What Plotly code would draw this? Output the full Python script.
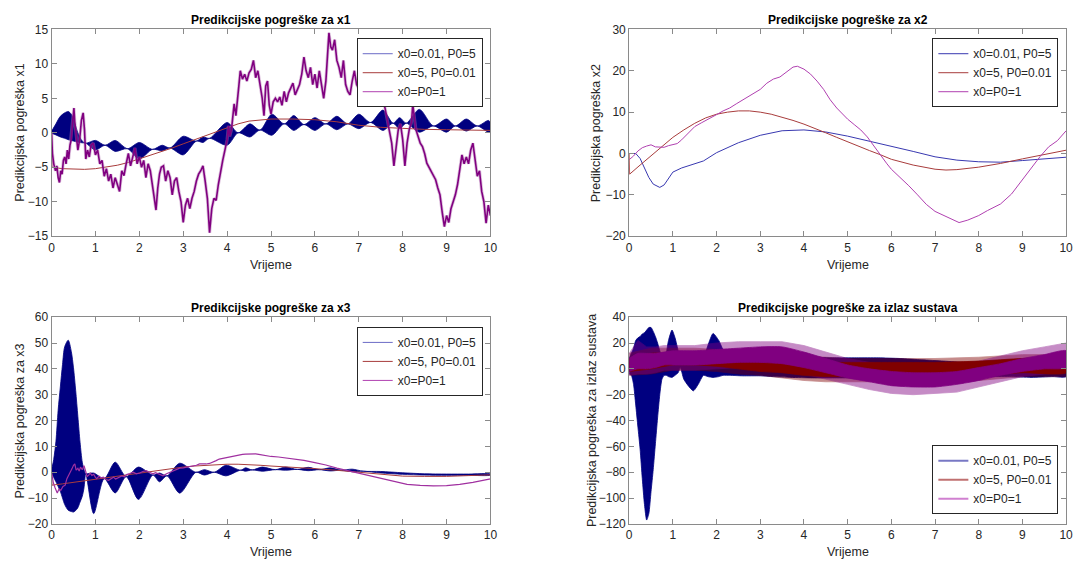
import plotly.graph_objects as go

FONT = "Liberation Sans, Arial, Helvetica, sans-serif"
W, H = 1086, 568

NAVY = "#000080"
DRED = "#800000"
DMAG = "#800080"
L_BLUE = "#3838b0"
L_RED = "#a83c3c"
L_MAG = "#b040b0"

LEG_NAMES = ["x0=0.01, P0=5", "x0=5, P0=0.01", "x0=P0=1"]

# ---------------- subplot 1 : x1 ----------------
x1_blue_t = [0, 0.1, 0.2, 0.3, 0.38, 0.45, 0.5, 0.6, 0.7, 0.78, 1.0, 1.22, 1.45, 1.73, 2.0, 2.3, 2.52, 2.7,
             3.0, 3.3, 3.45, 3.6, 4.0, 4.25, 4.52, 4.75, 5.02, 5.3, 5.52, 5.75, 6.0, 6.25, 6.5, 6.75, 7.0,
             7.27, 7.55, 7.78, 7.93, 8.08, 8.38, 8.7, 9.0, 9.2, 9.45, 9.7, 9.95, 10]
x1_blue_up = [0, 1.3, 2.4, 2.9, 3.1, 2.7, 2.0, 0.0, -1.2, -1.5, -1.1, -1.8, -1.1, -2.3, -1.4, -2.4, -1.8, -2.2,
              -0.5, -1.2, -0.6, -0.8, 1.5, 0.0, 1.3, 0.4, 2.7, 1.3, 2.5, 1.2, 2.2, 1.3, 2.4, 1.3, 2.7,
              1.5, 3.3, 1.4, 2.2, 1.4, 3.4, 1.0, 2.0, 1.0, 2.0, 1.0, 1.8, 1.5]
x1_blue_lo = [0, -0.3, -0.6, -0.8, -1.0, -1.1, -1.2, -1.35, -1.45, -1.5, -2.5, -1.8, -2.7, -2.3, -3.8, -2.4, -2.6, -2.2,
              -3.2, -1.2, -1.4, -0.8, -1.8, 0.0, -0.6, 0.4, -0.35, 1.3, 0.35, 1.2, 0.35, 1.3, 0.45, 1.3, 0.6,
              1.5, 0.35, 1.4, 0.6, 1.4, 0.1, 1.0, 0.1, 1.0, 0.25, 1.0, 0.1, 0.2]

x1_red_t = [0, 0.01, 0.25, 0.5, 0.75, 1.0, 1.25, 1.5, 1.75, 2.0, 2.25, 2.5, 2.75, 3.0, 3.25, 3.5, 3.75, 4.0,
            4.25, 4.5, 4.75, 5.0, 5.5, 6.0, 6.5, 7.0, 7.5, 8.0, 8.5, 9.0, 9.5, 10]
x1_red_v = [0, -5, -5.2, -5.3, -5.3, -5.2, -5.0, -4.7, -4.3, -3.8, -3.2, -2.7, -2.2, -1.6, -1.0, -0.4, 0.2, 0.8,
            1.3, 1.7, 1.9, 2.0, 2.0, 1.9, 1.6, 1.1, 0.8, 0.6, 0.5, 0.45, 0.4, 0.35]

x1_mag_t = [0, 0.02, 0.05, 0.09, 0.12, 0.15, 0.18, 0.21, 0.24, 0.27, 0.3, 0.33, 0.36, 0.39, 0.42, 0.45, 0.48,
            0.51, 0.53, 0.56, 0.6, 0.64, 0.68, 0.72, 0.75, 0.78, 0.82, 0.86, 0.9, 0.95, 1.0, 1.05, 1.1, 1.15,
            1.2, 1.25, 1.3, 1.35, 1.4, 1.45, 1.5, 1.55, 1.6, 1.65, 1.7, 1.75, 1.8, 1.85, 1.9, 1.95, 2.0, 2.05,
            2.1, 2.15, 2.2, 2.25, 2.3, 2.35, 2.38, 2.42, 2.46, 2.5, 2.55, 2.6, 2.65, 2.7, 2.75, 2.8, 2.85, 2.9,
            2.95, 3.0, 3.05, 3.1, 3.15, 3.2, 3.25, 3.3, 3.35, 3.4, 3.45, 3.5, 3.55, 3.6, 3.65, 3.7, 3.75, 3.8,
            3.85, 3.9, 3.95, 4.0, 4.03, 4.06, 4.1, 4.13, 4.16, 4.2, 4.23, 4.27, 4.3, 4.35, 4.4, 4.45, 4.5, 4.55,
            4.6, 4.65, 4.7, 4.75, 4.8, 4.84, 4.88, 4.92, 4.96, 5.0, 5.05, 5.1, 5.15, 5.2, 5.25, 5.3, 5.35, 5.4,
            5.45, 5.5, 5.55, 5.6, 5.65, 5.7, 5.75, 5.8, 5.85, 5.9, 5.95, 6.0, 6.05, 6.1, 6.15, 6.2, 6.25, 6.28,
            6.32, 6.36, 6.4, 6.45, 6.5, 6.55, 6.6, 6.65, 6.7, 6.75, 6.8, 6.85, 6.9, 6.95, 7.0, 7.05, 7.1, 7.15,
            7.2, 7.25, 7.3, 7.35, 7.4, 7.45, 7.5, 7.55, 7.6, 7.65, 7.7, 7.75, 7.8, 7.85, 7.9, 7.95, 8.0, 8.05,
            8.1, 8.15, 8.2, 8.23, 8.27, 8.3, 8.35, 8.4, 8.45, 8.5, 8.55, 8.6, 8.65, 8.7, 8.75, 8.8, 8.85, 8.9,
            8.95, 9.0, 9.05, 9.1, 9.15, 9.2, 9.25, 9.3, 9.35, 9.4, 9.45, 9.5, 9.55, 9.6, 9.65, 9.7, 9.75, 9.8,
            9.85, 9.9, 9.95, 10.0]
x1_mag_v = [0, -3, -4.5, -5.5, -4.8, -6.5, -7.2, -5.5, -6, -4, -3.5, -4.5, -2.5, -3.8, -1.8, -1, 1.5,
            3.6, 1.5, -0.5, -2.5, -1, 1.8, 2.9, 0.5, -3.8, -2.5, -3.5, -1.8, -1.5, -3.2, -2.5, -4.5, -4,
            -6.3, -5.2, -7, -6, -8, -6.5, -7.5, -8.5, -5.5, -6.2, -4.5, -3, -4.8, -3.5, -2.2, -4.5, -3.5, -5,
            -4, -6.5, -4.5, -5.5, -7.5, -9.5, -11.2, -8, -6, -5, -4.8, -7, -5.5, -6.5, -9, -7, -6.5, -8.5,
            -10, -13, -10.5, -9.5, -11, -9.5, -8.5, -7, -6, -5.5, -4.8, -7, -9.5, -14.5, -11, -9.5, -9.8, -7.5,
            -5.5, -4, -2.5, -1, 1, -0.5, 0.5, 3, 4.2, 2.5, 5, 7, 9, 7.8, 8.5, 7.5, 8.7, 9.2,
            10.5, 8, 9, 7, 5, 2.5, 6.8, 7.5, 4, 2.7, 4.5, 5, 4.5, 5.2, 4, 6, 4.5, 5.8,
            6.5, 7.2, 5.5, 6.3, 7, 8.5, 11, 9, 8, 9.5, 7, 8.5, 6.5, 9, 7, 5, 7.5, 11,
            14.5, 12.5, 12, 13.5, 10.5, 9.5, 8, 10.5, 7, 6, 5.5, 7.5, 9, 7, 6.5, 5.8, 7.5, 6,
            7.5, 6.5, 7.5, 6.5, 7, 5.5, 6, 5, 3.5, 2, 0.5, -1.5, -4.8, -2, 0.5, 1.3, -1, -4.8,
            -1.5, 0.5, 1.5, 4.1, 2.0, 0.5, -0.5, -1.5, -2, -3, -4.4, -5, -5.8, -6.2, -6.8, -8, -9, -11.5,
            -13.6, -12, -13, -11, -10, -9, -7.5, -5, -3.2, -4.5, -3.5, -4.5, -2.5, -1.5, -4, -6.3, -5.5, -8.5,
            -10, -13.1, -10.5, -12]

# ---------------- subplot 2 : x2 ----------------
x2_blue_t = [0, 0.15, 0.25, 0.35, 0.45, 0.55, 0.7, 0.8, 0.9, 1.0, 1.2, 1.5, 1.7, 2.0, 2.5, 3.0, 3.5, 4.0, 4.5,
             5.0, 5.5, 6.0, 6.5, 7.0, 7.5, 8.0, 8.5, 9.0, 9.5, 10]
x2_blue_v = [0, 0, -1.2, -3.5, -5.8, -7.4, -8.2, -7.6, -5.9, -4.5, -3.5, -2.4, -1.8, 0.2, 2.6, 4.4, 5.5, 5.7, 5.2,
             4.2, 3.0, 1.7, 0.5, -0.8, -1.6, -2.0, -2.1, -1.7, -1.3, -0.9]

x2_red_t = [0, 0.01, 0.25, 0.5, 0.75, 1.0, 1.25, 1.5, 1.75, 2.0, 2.25, 2.5, 2.75, 3.0, 3.25, 3.5, 3.75, 4.0,
            4.25, 4.5, 4.75, 5.0, 5.25, 5.5, 5.75, 6.0, 6.5, 7.0, 7.25, 7.5, 8.0, 8.5, 9.0, 9.5, 10]
x2_red_v = [0, -5, -2.8, -0.6, 1.7, 3.9, 5.7, 7.3, 8.6, 9.5, 10.0, 10.3, 10.3, 10.0, 9.5, 8.8, 8.0, 7.1,
            6.1, 5.0, 3.9, 2.8, 1.7, 0.7, -0.3, -1.4, -2.8, -3.8, -4.0, -3.9, -3.3, -2.4, -1.3, -0.2, 0.8]

x2_mag_t = [0, 0.1, 0.2, 0.3, 0.4, 0.5, 0.6, 0.7, 0.8, 0.9, 1.0, 1.1, 1.2, 1.35, 1.5, 1.65, 1.8, 2.0, 2.15, 2.3,
            2.45, 2.6, 2.8, 3.0, 3.15, 3.3, 3.45, 3.6, 3.75, 3.85, 4.0, 4.15, 4.3, 4.45, 4.6, 4.75, 4.9, 5.0,
            5.15, 5.3, 5.45, 5.6, 5.75, 5.9, 6.0, 6.2, 6.4, 6.6, 6.8, 7.0, 7.2, 7.4, 7.55, 7.75, 8.0, 8.2,
            8.5, 8.75, 9.0, 9.2, 9.4, 9.6, 9.8, 10]
x2_mag_v = [-1.5, -0.6, 0.6, 1.4, 1.8, 2.1, 1.6, 1.5, 1.5, 1.9, 2.1, 2.4, 3.3, 5.0, 6.5, 7.4, 8.2, 9.4, 10.3, 11.0,
            12.0, 13.0, 14.2, 15.5, 17.0, 18.0, 18.5, 19.6, 20.9, 21.1, 20.4, 19.2, 17.5, 15.5, 13.0, 11.0, 9.3, 8.3,
            7.0, 5.7, 4.0, 1.8, -0.5, -2.5, -3.8, -5.7, -7.8, -10.0, -12.3, -14.0, -15.0, -16.1, -16.7, -16.1, -15.0, -13.8,
            -12.2, -9.8, -6.3, -3.5, -0.8, 1.6, 3.1, 5.5]

# ---------------- subplot 3 : x3 ----------------
x3_blue_t = [0, 0.05, 0.1, 0.15, 0.2, 0.25, 0.3, 0.38, 0.45, 0.5, 0.55, 0.6, 0.65, 0.7, 0.74, 0.78, 0.96, 1.2,
             1.45, 1.7, 1.98, 2.31, 2.46, 2.63, 2.92, 3.29, 3.48, 3.71, 3.97, 4.31, 4.42, 4.57, 4.8, 5.1, 5.33,
             5.6, 5.85, 6.1, 6.35, 6.6, 6.85, 7.1, 7.5, 8.0, 8.5, 9.0, 9.5, 10]
x3_blue_up = [0, 5, 12, 24, 33, 41.7, 48.6, 51.1, 46.7, 40.4, 31.6, 21.5, 11.5, 3.9, 1.0, -0.5, -0.3, -2.5,
              3.9, -1.7, 2.0, -1.1, -0.3, -1.4, 3.5, 0.0, 1.0, 0.0, 2.7, 0.8, 1.7, 0.9, 2.0, 1.0, 2.0,
              1.1, 1.9, 1.0, 1.7, 0.8, 1.2, 0.4, 0.3, -0.2, -0.6, -0.7, -0.7, -0.7]
x3_blue_lo = [0, -2, -3.7, -5.5, -7.4, -10, -12.5, -14.7, -15.2, -15.4, -14.8, -13.7, -11.5, -9.3, -6, -0.5, -16, -2.5,
              -8.0, -1.7, -10.5, -1.1, -3.7, -1.4, -8.1, 0.0, -1.1, 0.0, -1.4, 0.8, 0.4, 0.9, 0.4, 1.0, 0.8,
              1.1, 0.6, 1.0, 0.5, 0.8, 0.2, 0.4, -0.3, -0.8, -1.1, -1.2, -1.2, -1.1]

x3_red_t = [0, 0.01, 0.25, 0.5, 0.75, 1.0, 1.25, 1.5, 1.75, 2.0, 2.25, 2.5, 2.75, 3.0, 3.25, 3.5, 3.75, 4.0,
            4.25, 4.5, 4.75, 5.0, 5.5, 6.0, 6.5, 7.0, 7.5, 8.0, 8.5, 9.0, 9.5, 10]
x3_red_v = [0, -5, -4.5, -3.9, -3.2, -2.6, -2.0, -1.4, -0.8, -0.2, 0.4, 1.0, 1.5, 2.0, 2.4, 2.7, 3.0, 3.1,
            3.1, 3.0, 2.7, 2.4, 2.0, 1.4, 0.75, 0.0, -1.0, -1.5, -1.6, -1.6, -1.3, -1.0]

x3_mag_t = [0, 0.04, 0.08, 0.13, 0.17, 0.21, 0.26, 0.31, 0.35, 0.4, 0.43, 0.47, 0.5, 0.53, 0.56, 0.6, 0.63, 0.66,
            0.7, 0.74, 0.78, 0.81, 0.85, 0.88, 0.92, 0.96, 1.0, 1.03, 1.08, 1.13, 1.18, 1.24, 1.3, 1.35, 1.41,
            1.46, 1.52, 1.6, 1.66, 1.71, 1.78, 1.86, 1.93, 2.01, 2.08, 2.16, 2.23, 2.31, 2.37, 2.42, 2.48, 2.54,
            2.62, 2.7, 2.76, 2.84, 2.92, 3.0, 3.07, 3.15, 3.22, 3.3, 3.37, 3.45, 3.52, 3.6, 3.67, 3.75, 3.82,
            3.9, 3.97, 4.05, 4.12, 4.2, 4.27, 4.35, 4.42, 4.5, 4.57, 4.65, 4.72, 4.8, 4.87, 5.0, 5.17, 5.35,
            5.55, 5.75, 6.0, 6.25, 6.5, 6.75, 7.0, 7.3, 7.55, 7.8, 8.1, 8.4, 8.7, 9.0, 9.3, 9.6, 9.8, 10]
x3_mag_v = [0, -4, -6, -8, -6.5, -7, -5.5, -5, -2.5, -1, 0.3, 1.5, 2.7, 3.2, 0.8, 1.5, 0.5, 2.0,
            1.0, 2.5, 0.2, -1.7, -1.0, -0.3, -1.2, -0.8, -2.0, -2.5, -1.5, -2.2, -1.9, -2.8, -3.1, -2.4, -1.9,
            -2.6, -2.2, -1.4, -1.8, -0.9, -0.5, 0.0, -0.6, -0.3, 0.3, 0.6, 0.0, -0.6, -0.2, -0.5, -1.0, -1.4,
            -0.6, 0.0, 0.4, 1.0, 1.6, 1.7, 1.9, 2.0, 2.2, 2.7, 3.2, 3.1, 3.2, 3.4, 3.8, 4.5, 5.1,
            5.4, 5.7, 6.0, 6.2, 6.5, 6.8, 6.9, 7.0, 7.1, 7.2, 7.1, 6.9, 6.6, 6.3, 6.1, 5.9, 5.5,
            5.1, 4.6, 3.7, 2.8, 1.6, 0.6, -0.5, -1.7, -2.6, -3.6, -4.7, -5.1, -5.3, -5.2, -4.7, -3.9, -3.3, -2.6]

# ---------------- subplot 4 : output (noisy bands: spike envelope and dense core) ----------------
y_blue_t = [0, 0.05, 0.1, 0.15, 0.2, 0.25, 0.3, 0.35, 0.4, 0.45, 0.5, 0.55, 0.6, 0.65, 0.7, 0.75, 0.8, 0.85,
            0.9, 0.98, 1.05, 1.12, 1.17, 1.25, 1.35, 1.47, 1.58, 1.7, 1.8, 1.92, 2.05, 2.15, 2.3, 2.6, 3.0,
            3.3, 3.7, 4.2, 4.7, 5.2, 5.7, 6.2, 6.7, 7.2, 7.7, 8.2, 8.7, 9.2, 9.7, 10]
y_blue_up = [8, 12, 16, 22, 24, 25, 27, 28, 30, 32, 32, 29, 25, 20, 14, 9, 4, 12,
             22, 30, 24, 14, 6, 7, 8.5, 8.5, 8, 8.5, 18, 27.4, 22, 15, 11, 11, 11,
             10, 9.7, 9, 8.5, 8.5, 8.5, 8, 7, 6, 5, 6, 7, 8, 9, 9]
y_blue_lo = [-4, -5, -12, -28, -45, -62, -85, -105, -117, -112, -95, -78, -58, -38, -20, -8, -5, -5,
             -6, -6.6, -5, -3, 1, -8, -13, -17, -12, -5, -6, -6.6, -6, -5, -5, -5.4, -5.4,
             -6, -6.6, -7, -7, -7, -7, -7, -7, -6, -6, -6, -6, -6.6, -6, -6]

y_red_t = [0, 0.5, 1.0, 1.5, 2.0, 2.5, 3.0, 3.5, 4.0, 4.5, 5.0, 6.0, 7.0, 8.0, 9.0, 10]
y_red_up_max = [12, 16, 16, 16, 15, 14, 13, 12, 10, 9, 8, 8, 8, 9, 11, 11]
y_red_lo_min = [-5, -4, -1, -1, -2, -4, -5, -7, -9, -10, -10, -10, -10, -9, -6, -6]
y_red_up = [8, 12, 12, 12, 11, 10, 9, 8, 6, 5, 5, 5, 5, 6, 8, 8]
y_red_lo = [-2, 0, 3, 3, 2, 0, -2, -3, -5, -6, -6, -6, -6, -5, -3, -3]

y_mag_t = [0, 0.2, 0.4, 0.6, 0.8, 1.0, 1.5, 2.0, 2.5, 3.0, 3.5, 4.0, 4.5, 5.0, 5.5, 6.0, 6.5, 7.0,
           7.5, 8.0, 8.5, 9.0, 9.5, 10]
y_mag_up_max = [12, 22, 17, 17, 18, 18, 18, 20, 21, 21, 21, 18, 13, 8, 5, 3, 2, 2,
                3, 6, 10, 14, 17, 20]
y_mag_lo_min = [-5, -4, -4, -3, -1, -1, -1, 0, 1, 1, 0, -4, -8, -12, -16, -19, -20, -19,
                -18, -14, -10, -6, -4, -3]
y_mag_up = [8, 12, 12, 12, 13, 14, 14, 15, 16, 17, 17, 13, 8, 3, 0, -2, -3, -3,
            -2, 1, 4, 8, 11, 14]
y_mag_lo = [-2, 0, 0, 1, 3, 3, 3, 4, 5, 5, 4, 1, -3, -7, -10, -13, -14, -14,
            -12, -9, -5, -2, 0, 1]

x_ticks = list(range(0, 11))
y1_ticks = [-15, -10, -5, 0, 5, 10, 15]
y2_ticks = [-20, -10, 0, 10, 20, 30]
y3_ticks = [-20, -10, 0, 10, 20, 30, 40, 50, 60]
y4_ticks = [-120, -100, -80, -60, -40, -20, 0, 20, 40]


def band(t, up, lo):
    return list(t) + list(t)[::-1], list(up) + list(lo)[::-1]


fig = go.Figure()


def add_band(t, up, lo, color, ax, smooth=0.8, opacity=1.0, shape="spline"):
    bx, by = band(t, up, lo)
    fig.add_trace(go.Scatter(x=bx, y=by, mode="lines", fill="toself", fillcolor=color, opacity=opacity,
                             line=dict(color=color, width=0.8, shape=shape, smoothing=smooth),
                             showlegend=False, hoverinfo="skip", xaxis="x" + ax, yaxis="y" + ax))


def add_legend_line(name, color, width, legend, ax):
    fig.add_trace(go.Scatter(x=[None], y=[None], mode="lines", name=name,
                             line=dict(color=color, width=width), legend=legend,
                             xaxis="x" + ax, yaxis="y" + ax))


def add_line(t, v, color, width, name, legend, ax, show=True, opacity=1.0):
    fig.add_trace(go.Scatter(x=t, y=v, mode="lines", name=name, line=dict(color=color, width=width),
                             legend=legend, showlegend=show, opacity=opacity, hoverinfo="skip",
                             xaxis="x" + ax, yaxis="y" + ax))


# subplot 1
add_legend_line(LEG_NAMES[0], "#4545b8", 0.8, "legend", "")
add_band(x1_blue_t, x1_blue_up, x1_blue_lo, NAVY, "")
add_line(x1_red_t, x1_red_v, L_RED, 1, LEG_NAMES[1], "legend", "")
add_line(x1_mag_t, x1_mag_v, "#b070b0", 3.2, LEG_NAMES[2], "legend", "", show=False, opacity=0.45)
add_line(x1_mag_t, x1_mag_v, DMAG, 1.6, LEG_NAMES[2], "legend", "", show=False)
add_legend_line(LEG_NAMES[2], L_MAG, 1, "legend", "")

# subplot 2
add_line(x2_blue_t, x2_blue_v, L_BLUE, 1, LEG_NAMES[0], "legend2", "2")
add_line(x2_red_t, x2_red_v, L_RED, 1, LEG_NAMES[1], "legend2", "2")
add_line(x2_mag_t, x2_mag_v, L_MAG, 1, LEG_NAMES[2], "legend2", "2")

# subplot 3
add_legend_line(LEG_NAMES[0], "#4545b8", 0.8, "legend3", "3")
add_band(x3_blue_t, x3_blue_up, x3_blue_lo, NAVY, "3")
add_line(x3_red_t, x3_red_v, L_RED, 1, LEG_NAMES[1], "legend3", "3")
add_line(x3_mag_t, x3_mag_v, "#a030a0", 1.2, LEG_NAMES[2], "legend3", "3", show=False)
add_legend_line(LEG_NAMES[2], L_MAG, 1, "legend3", "3")

# subplot 4
add_legend_line(LEG_NAMES[0], "#7878c4", 2, "legend4", "4")
add_legend_line(LEG_NAMES[1], "#c07070", 2, "legend4", "4")
add_legend_line(LEG_NAMES[2], "#d080d0", 2, "legend4", "4")
add_band(y_blue_t, y_blue_up, y_blue_lo, NAVY, "4", smooth=0.6)
add_band(y_red_t, y_red_up_max, y_red_lo_min, DRED, "4", opacity=0.45, shape="linear")
add_band(y_mag_t, y_mag_up_max, y_mag_lo_min, DMAG, "4", opacity=0.45, shape="linear")
add_band(y_red_t, y_red_up, y_red_lo, DRED, "4", smooth=0.6)
add_band(y_mag_t, y_mag_up, y_mag_lo, DMAG, "4", smooth=0.6)

AX_COL = "#8a8a8a"
TICK_FONT = dict(family=FONT, size=12, color="#262626")


def xax(domain, anchor):
    return dict(domain=domain, anchor=anchor, range=[0, 10], tickvals=x_ticks, showline=True,
                linecolor=AX_COL, linewidth=1, mirror="ticks", ticks="inside", ticklen=5,
                tickcolor=AX_COL, showgrid=False, zeroline=False, tickfont=TICK_FONT)


def yax(domain, anchor, rng, ticks):
    return dict(domain=domain, anchor=anchor, range=rng, tickvals=ticks, showline=True,
                linecolor=AX_COL, linewidth=1, mirror="ticks", ticks="inside", ticklen=5,
                tickcolor=AX_COL, showgrid=False, zeroline=False, tickfont=TICK_FONT)


XL = [49 / W, 492 / W]
XR = [632 / W, 1073 / W]
YT = [1 - 235 / H, 1 - 23 / H]
YB = [1 - 530 / H, 1 - 318 / H]


def leg(x, y, yanchor="top"):
    return dict(x=x / W, y=1 - y / H, xanchor="left", yanchor=yanchor, bgcolor="white",
                bordercolor="#262626", borderwidth=1, font=dict(family=FONT, size=12, color="#262626"),
                tracegroupgap=0, itemwidth=30)


annotations = []


def title(text, xc, yc):
    annotations.append(dict(text="<b>" + text + "</b>", x=xc / W, y=1 - yc / H, xref="paper", yref="paper",
                            showarrow=False, xanchor="center", yanchor="middle",
                            font=dict(family=FONT, size=12, color="black")))


def label(text, xc, yc, angle=0):
    annotations.append(dict(text=text, x=xc / W, y=1 - yc / H, xref="paper", yref="paper",
                            showarrow=False, xanchor="center", yanchor="middle", textangle=angle,
                            font=dict(family=FONT, size=12.5, color="#262626")))


title("Predikcijske pogreške za x1", 270.5, 13)
title("Predikcijske pogreške za x2", 852.5, 13)
title("Predikcijske pogreške za x3", 270.5, 309)
title("Predikcijske pogreške za izlaz sustava", 852.5, 309)
label("Vrijeme", 270.5, 265)
label("Vrijeme", 852.5, 265)
label("Vrijeme", 270.5, 559)
label("Vrijeme", 852.5, 559)
label("Predikcijska pogreška x1", 17, 129, -90)
label("Predikcijska pogreška x2", 598, 129, -90)
label("Predikcijska pogreška za x3", 17, 424, -90)
label("Predikcijska pogreška za izlaz sustava", 594, 424, -90)

fig.update_layout(
    width=W, height=H, margin=dict(l=0, r=0, t=0, b=0),
    paper_bgcolor="white", plot_bgcolor="white",
    font=dict(family=FONT, size=12, color="#262626"),
    xaxis=xax(XL, "y"), yaxis=yax(YT, "x", [-15, 15], y1_ticks),
    xaxis2=xax(XR, "y2"), yaxis2=yax(YT, "x2", [-20, 30], y2_ticks),
    xaxis3=xax(XL, "y3"), yaxis3=yax(YB, "x3", [-20, 60], y3_ticks),
    xaxis4=xax(XR, "y4"), yaxis4=yax(YB, "x4", [-120, 40], y4_ticks),
    legend=leg(357, 32), legend2=leg(938, 32), legend3=leg(357, 328), legend4=leg(938, 520, "bottom"),
    annotations=annotations,
)

fig.write_html("out.html")
